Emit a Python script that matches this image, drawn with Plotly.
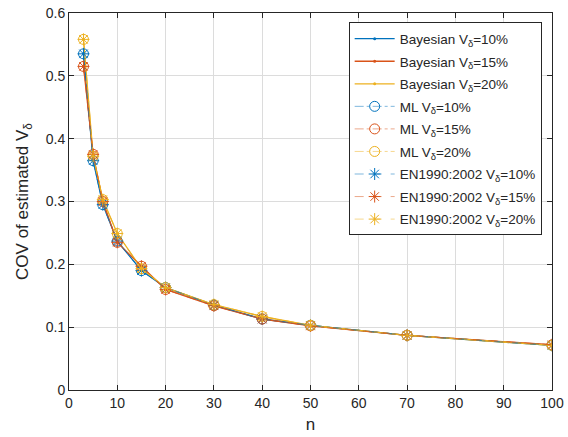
import plotly.graph_objects as go

n = [3, 5, 7, 10, 15, 20, 30, 40, 50, 70, 100]

bayes_10 = [0.535, 0.365, 0.295, 0.237, 0.190, 0.163, 0.135, 0.113, 0.103, 0.087, 0.071]
bayes_15 = [0.515, 0.375, 0.300, 0.235, 0.197, 0.160, 0.134, 0.113, 0.102, 0.087, 0.072]
bayes_20 = [0.558, 0.372, 0.303, 0.249, 0.193, 0.163, 0.136, 0.117, 0.103, 0.087, 0.071]

ml_10 = [0.535, 0.365, 0.295, 0.237, 0.190, 0.163, 0.135, 0.113, 0.103, 0.087, 0.071]
ml_15 = [0.515, 0.375, 0.300, 0.235, 0.197, 0.160, 0.134, 0.113, 0.102, 0.087, 0.072]
ml_20 = [0.558, 0.372, 0.303, 0.249, 0.193, 0.163, 0.136, 0.117, 0.103, 0.087, 0.071]

en_10 = [0.535, 0.365, 0.295, 0.237, 0.190, 0.163, 0.135, 0.113, 0.103, 0.087, 0.071]
en_15 = [0.515, 0.375, 0.300, 0.235, 0.197, 0.160, 0.134, 0.113, 0.102, 0.087, 0.072]
en_20 = [0.558, 0.372, 0.303, 0.249, 0.193, 0.163, 0.136, 0.117, 0.103, 0.087, 0.071]

labels_v = ["10%", "15%", "20%"]
colors = ["#0072BD", "#D95319", "#EDB120"]
faded = ["rgba(0,114,189,0.5)", "rgba(217,83,25,0.5)", "rgba(237,177,32,0.5)"]

fig = go.Figure()
V = "V<sub>δ</sub>"
k = 0
for ys, lab, c in zip([bayes_10, bayes_15, bayes_20], labels_v, colors):
    k += 1
    fig.add_trace(go.Scatter(x=n, y=ys, mode="lines+markers", name=f"Bayesian {V}={lab}",
                             legendgroup=f"g{k}",
                             line=dict(color=c, width=1.3), marker=dict(symbol="circle", size=3, color=c)))
for ys, lab, c, f in zip([ml_10, ml_15, ml_20], labels_v, colors, faded):
    k += 1
    fig.add_trace(go.Scatter(x=n, y=ys, mode="lines+markers", name=f"ML {V}={lab}",
                             legendgroup=f"g{k}",
                             line=dict(color=f, width=1, dash="dashdot"),
                             marker=dict(symbol="circle-open", size=10, color=c, line=dict(width=1))))
for ys, lab, c, f in zip([en_10, en_15, en_20], labels_v, colors, faded):
    k += 1
    fig.add_trace(go.Scatter(x=n, y=ys, mode="lines+markers", name=f"EN1990:2002 {V}={lab}",
                             legendgroup=f"g{k}",
                             line=dict(color=f, width=1, dash="dash"),
                             marker=dict(symbol="asterisk-open", size=10, color=c, line=dict(width=1, color=c))))

axis_common = dict(showline=True, linecolor="#262626", linewidth=1, mirror="ticks",
                   ticks="inside", ticklen=5, tickcolor="#262626",
                   showgrid=True, gridcolor="#dcdcdc", gridwidth=1, zeroline=False,
                   tickfont=dict(family="Liberation Sans, Arial", size=14, color="#262626"))

fig.update_layout(
    width=568, height=437,
    margin=dict(l=69, r=16, t=13, b=47, autoexpand=False),
    paper_bgcolor="white", plot_bgcolor="white",
    font=dict(family="Liberation Sans, Arial", size=14, color="#262626"),
    xaxis=dict(range=[0, 100], dtick=10, title=dict(text="n", standoff=8), **axis_common),
    yaxis=dict(range=[0, 0.6], dtick=0.1, tickformat=".1~f",
               title=dict(text="COV of estimated V<sub>δ</sub>", standoff=12), **axis_common),
    legend=dict(x=0.579, y=0.975, xanchor="left", yanchor="top",
                bgcolor="white", bordercolor="#262626", borderwidth=1,
                font=dict(size=13.5), tracegroupgap=2, itemwidth=40),
    showlegend=True,
)

fig.write_html("out.html")
